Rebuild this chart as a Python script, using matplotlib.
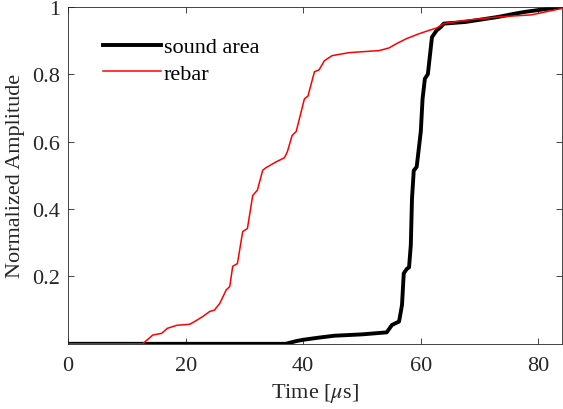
import numpy as np
import matplotlib.pyplot as plt

plt.rcParams['font.family'] = ['Liberation Serif', 'DejaVu Serif']
plt.rcParams['mathtext.fontset'] = 'stix'

# rebar curve
rebar_t = [0, 12.7, 14.4, 15.9, 16.9, 18.5, 20.7, 21.9, 22.9, 24.1, 24.9, 25.8,
           26.9, 27.5, 28.0, 28.8, 29.7, 30.5, 31.4, 32.2, 33.1, 33.7, 35.4,
           36.8, 37.3, 38.1, 38.8, 40.2, 40.8, 41.9, 42.7, 43.6, 44.9, 47.8,
           52.9, 54.6, 55.8, 57.5, 59.7, 61.4, 62.7, 63.9, 67.6, 73.2, 78.8, 84]
rebar_y = [0, 0.0, 0.026, 0.031, 0.046, 0.055, 0.058, 0.07, 0.081, 0.096, 0.10, 0.12,
           0.16, 0.17, 0.23, 0.238, 0.333, 0.342, 0.44, 0.456, 0.515, 0.523, 0.54,
           0.552, 0.57, 0.618, 0.63, 0.727, 0.735, 0.807, 0.813, 0.84, 0.855, 0.864,
           0.87, 0.878, 0.89, 0.905, 0.92, 0.93, 0.937, 0.95, 0.96, 0.97, 0.976, 0.995]

# sound area curve
sound_t = [0, 37.0, 38.8, 40.0, 42.5, 45.3, 50.0, 54.2, 55.1, 56.3, 56.8, 57.1,
           57.6, 58.0, 58.3, 58.5, 58.8, 59.3, 60.0, 60.3, 60.7, 61.2, 61.9,
           62.7, 63.4, 63.9, 67.6, 73.2, 76.1, 77.8, 84]
sound_y = [0, 0.0, 0.008, 0.012, 0.018, 0.024, 0.028, 0.034, 0.056, 0.066, 0.115, 0.209,
           0.222, 0.227, 0.293, 0.43, 0.514, 0.525, 0.63, 0.727, 0.787, 0.80, 0.91,
           0.93, 0.94, 0.95, 0.955, 0.97, 0.98, 0.985, 1.0]

axc = '#262626'

fig = plt.figure(figsize=(5.63, 4.10), dpi=100)
ax = fig.add_axes([0.121, 0.159, 0.877, 0.822])

ax.plot(sound_t, sound_y, color='black', lw=2.8, label='sound area')
ax.plot(rebar_t, rebar_y, color='red', lw=1.1, label='rebar')

ax.set_xlim(0, 84)
ax.set_ylim(0, 1)
ax.set_xticks([0, 20, 40, 60, 80])
ax.set_yticks([0.2, 0.4, 0.6, 0.8, 1])
ax.set_yticklabels(['0.2', '0.4', '0.6', '0.8', '1'])
ax.tick_params(direction='in', top=True, right=True, length=4, width=0.6,
               labelsize=16, colors=axc)
ax.tick_params(axis='x', pad=9)
ax.tick_params(axis='y', pad=6)
for sp in ax.spines.values():
    sp.set_color(axc)
    sp.set_linewidth(0.6)

ax.set_xlabel(r'Time [$\mu$s]', fontsize=16, color=axc, labelpad=4)
ax.set_ylabel('Normalized Amplitude', fontsize=16, color=axc, labelpad=5)

ax.legend(loc='upper left', frameon=False, fontsize=16, handlelength=2.6,
          handletextpad=0.15, labelspacing=0.25, bbox_to_anchor=(0.03, 0.97))

fig.savefig('out.png', dpi=100)
